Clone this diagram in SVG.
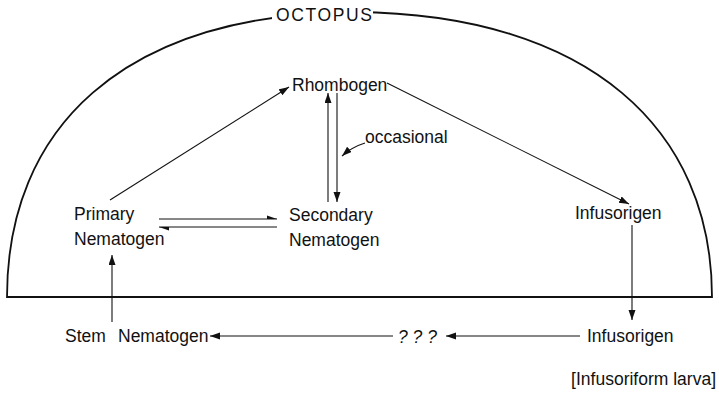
<svg xmlns="http://www.w3.org/2000/svg" width="719" height="393" viewBox="0 0 719 393">
<style>
text{font-family:"Liberation Sans",Arial,sans-serif;font-size:17.5px;fill:#111}
.conn path{fill:none;stroke:#111;stroke-width:1.1}
.head{fill:#111;stroke:none}
</style>
<defs>
<marker id="ah" markerUnits="userSpaceOnUse" markerWidth="11" markerHeight="8" refX="10" refY="3.5" orient="auto"><path class="head" d="M0,0 L10,3.5 L0,7 Z"/></marker>
<marker id="half" markerUnits="userSpaceOnUse" markerWidth="11" markerHeight="5" refX="10" refY="4" orient="auto"><path class="head" d="M0,0.5 L10,4 L0,4 Z"/></marker>
</defs>
<rect width="719" height="393" fill="#fff"/>
<g id="octopus">
<path d="M7 297 C7 130 120 14 355 12 C590 14 712 130 712 297 Z" fill="none" stroke="#111" stroke-width="1.8"/>
<rect x="272" y="3" width="101" height="22" fill="#fff"/>
<text x="276" y="21" font-size="17" letter-spacing="1.6">OCTOPUS</text>
</g>
<g class="conn" id="connectors">
<path d="M110 200 L289 87" marker-end="url(#ah)"/>
<path d="M387 83 L629 204" marker-end="url(#ah)"/>
<path d="M328 202 L328 93" marker-end="url(#ah)"/>
<path d="M337 93 L337 202" marker-end="url(#ah)"/>
<path d="M365 143 Q352 147 342 156" marker-end="url(#ah)"/>
<path d="M159 219 L277 219" marker-end="url(#half)"/>
<path d="M277 227 L159 227" marker-end="url(#half)"/>
<path d="M112 322 L112 255" marker-end="url(#ah)"/>
<path d="M632 225 L632 320" marker-end="url(#ah)"/>
<path d="M580 336 L446 336" marker-end="url(#ah)"/>
<path d="M393 336 L210 336" marker-end="url(#ah)"/>
</g>
<g id="rhombogen"><text x="292" y="91">Rhombogen</text></g>
<g id="occasional"><text x="365" y="143">occasional</text></g>
<g id="primary"><text x="74" y="220">Primary</text><text x="74" y="245">Nematogen</text></g>
<g id="secondary"><text x="289" y="221">Secondary</text><text x="289" y="246">Nematogen</text></g>
<g id="infusorigen-in"><text x="575" y="219">Infusorigen</text></g>
<g id="stem"><text y="342"><tspan x="65">Stem</tspan><tspan x="118">Nematogen</tspan></text></g>
<g id="unknown"><text x="398" y="343" font-style="italic">? ? ?</text></g>
<g id="infusorigen-out"><text x="587" y="342">Infusorigen</text></g>
<g id="larva"><text x="716" y="385" font-size="15" text-anchor="end">[Infusoriform larva]</text></g>
</svg>
